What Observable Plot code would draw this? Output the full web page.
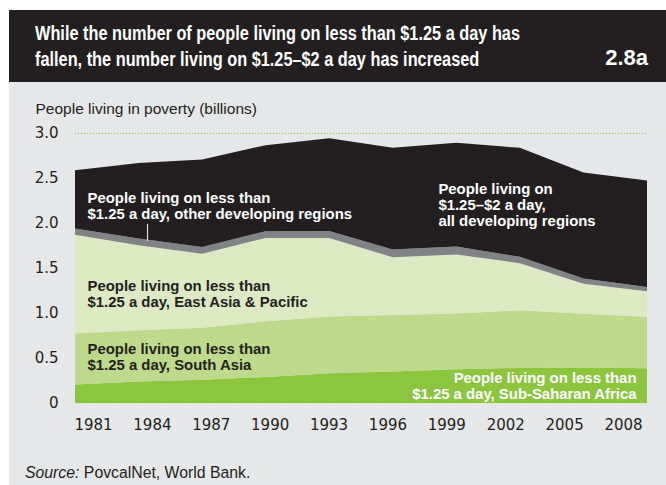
<!DOCTYPE html>
<html>
<head>
<meta charset="utf-8">
<script src="https://cdn.jsdelivr.net/npm/d3@7"></script>
<script src="https://cdn.jsdelivr.net/npm/@observablehq/plot@0.6"></script>
<style>
  html, body { margin: 0; padding: 0; background: #ffffff; }
  body { width: 666px; height: 485px; position: relative; overflow: hidden; font-family: "Liberation Sans", Arial, sans-serif; color: #231f20; }
  #titleband { position: absolute; left: 9px; top: 10px; width: 657px; height: 72px; background: #231f20; }
  #title { position: absolute; left: 26px; top: 10px; color: #ffffff; font-family: "Liberation Sans", Arial, sans-serif; font-weight: bold; font-size: 20px; line-height: 26px; white-space: nowrap; transform-origin: 0 0; }
  #fignum { position: absolute; right: 18px; top: 35px; color: #ffffff; font-family: "Liberation Sans", Arial, sans-serif; font-weight: bold; font-size: 22px; line-height: 26px; }
  #panel { position: absolute; left: 9px; top: 82px; width: 657px; height: 403px; background: #e6e7e8; }
  #chart { position: absolute; left: 0; top: 0; }
  #xaxis { position: absolute; left: 0; top: 325px; }
  #source { position: absolute; left: 16px; top: 382px; font-size: 15.8px; line-height: 18px; color: #231f20; }
</style>
</head>
<body>
<div id="titleband">
  <div id="title"><span id="t1">While the number of people living on less than $1.25 a day has</span><br>fallen, the number living on $1.25–$2 a day has increased</div>
  <div id="fignum">2.8a</div>
</div>
<div id="panel">
  <div id="chart"></div>
  <div id="xaxis"></div>
  <div id="source"><i>Source:</i> PovcalNet, World Bank.</div>
</div>
<script>
// ---- data (billions of people) ----
const years = [1981, 1984, 1987, 1990, 1993, 1996, 1999, 2002, 2005, 2008];
const subSaharanAfrica = [0.205, 0.239, 0.257, 0.290, 0.330, 0.349, 0.376, 0.390, 0.395, 0.386];
const southAsia        = [0.568, 0.568, 0.580, 0.618, 0.631, 0.630, 0.619, 0.640, 0.598, 0.571];
const eastAsiaPacific  = [1.097, 0.947, 0.822, 0.926, 0.871, 0.640, 0.656, 0.523, 0.332, 0.284];
const otherRegions     = [0.068, 0.073, 0.073, 0.075, 0.080, 0.086, 0.088, 0.071, 0.058, 0.048];
const between125and2   = [0.647, 0.840, 0.974, 0.956, 1.031, 1.132, 1.153, 1.211, 1.179, 1.182];

const seriesNames = ["Sub-Saharan Africa", "South Asia", "East Asia & Pacific", "Other developing regions", "$1.25–$2 a day"];
const seriesColors = ["#8cc63f", "#bdd98b", "#dce9c3", "#808285", "#231f20"];
const yTicks = [0, 0.5, 1.0, 1.5, 2.0, 2.5, 3.0];
const xTicks = years;

const seriesValues = [subSaharanAfrica, southAsia, eastAsiaPacific, otherRegions, between125and2];
const table = [];
seriesNames.forEach((s, i) => years.forEach((yr, j) => table.push({year: yr, series: s, value: seriesValues[i][j]})));

// annotation labels
const leftLabels = [
  {year: 1981, v: 2.20, text: "People living on less than\n$1.25 a day, other developing regions", fill: "#ffffff"},
  {year: 1981, v: 1.215, text: "People living on less than\n$1.25 a day, East Asia & Pacific", fill: "#231f20"},
  {year: 1981, v: 0.52, text: "People living on less than\n$1.25 a day, South Asia", fill: "#231f20"}
];
const midLabels = [
  {year: 1998.13, v: 2.21, text: "People living on\n$1.25–$2 a day,\nall developing regions", fill: "#ffffff"}
];
const rightLabels = [
  {year: 2008, v: 0.20, text: "People living on less than\n$1.25 a day, Sub-Saharan Africa", fill: "#ffffff"}
];
const leader = [{year: 1984.4, v1: 1.80, v2: 1.99}];

const tickFont = "'DejaVu Sans', 'Liberation Sans', sans-serif";
const textFont = "'Liberation Sans', Arial, sans-serif";
const labelOpts = {x: "year", y: "v", text: "text", fill: "fill", lineAnchor: "middle", fontWeight: "bold", fontSize: 14.9, lineHeight: 1.08, fontFamily: textFont};

const chart = Plot.plot({
  width: 657,
  height: 325,
  marginLeft: 66,
  marginRight: 19,
  marginTop: 51,
  marginBottom: 4,
  style: {background: "transparent", fontFamily: textFont, fontSize: "15px", color: "#231f20", overflow: "visible"},
  x: {domain: [1981, 2008], axis: null},
  y: {domain: [0, 3], label: null},
  color: {domain: seriesNames, range: seriesColors},
  marks: [
    Plot.ruleY([3], {stroke: "#8cc63f", strokeDasharray: "1,2", strokeWidth: 1}),
    Plot.areaY(table, {x: "year", y: "value", z: "series", fill: "series", order: seriesNames}),
    Plot.ruleY([0], {stroke: "#cfe3ad", strokeDasharray: "1,2", strokeWidth: 1}),
    Plot.axisY({ticks: yTicks, tickFormat: d => d === 0 ? "0" : d.toFixed(1), tickSize: 0, tickPadding: 17, fontSize: 15, fontFamily: tickFont, label: null}),
    Plot.text(["People living in poverty (billions)"], {frameAnchor: "top-left", dx: -40, dy: -24, textAnchor: "start", lineAnchor: "middle", fontSize: 15.5, fill: "#231f20"}),
    Plot.ruleX(leader, {x: "year", y1: "v1", y2: "v2", stroke: "#d9d9d9", strokeWidth: 1.2}),
    Plot.text(leftLabels, {...labelOpts, textAnchor: "start", dx: 12}),
    Plot.text(midLabels, {...labelOpts, textAnchor: "start"}),
    Plot.text(rightLabels, {...labelOpts, textAnchor: "end", dx: -11})
  ]
});
document.getElementById("chart").append(chart);

const xaxis = Plot.plot({
  width: 657,
  height: 32,
  marginLeft: 84,
  marginRight: 43,
  marginTop: 0,
  marginBottom: 32,
  style: {background: "transparent", fontFamily: tickFont, fontSize: "15px", color: "#231f20"},
  x: {domain: [1981, 2008], label: null},
  marks: [
    Plot.axisX({ticks: xTicks, tickFormat: d => String(d), tickSize: 0, tickPadding: 12, fontSize: 15, fontFamily: tickFont, label: null})
  ]
});
document.getElementById("xaxis").append(xaxis);

// fit the condensed title to the reference width
const t1 = document.getElementById("t1");
const w = t1.getBoundingClientRect().width;
if (w > 0) document.getElementById("title").style.transform = `scaleX(${485 / w})`;
</script>
</body>
</html>
